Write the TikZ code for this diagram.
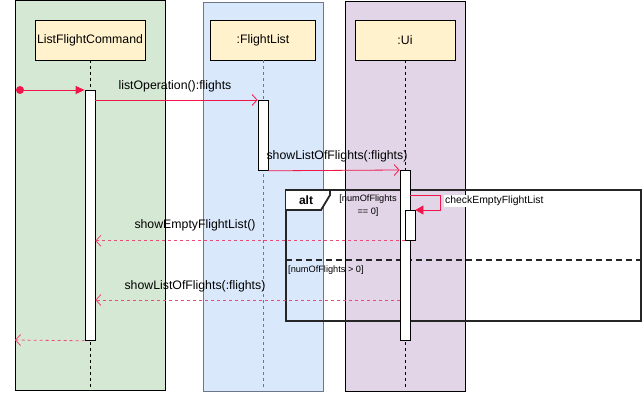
\documentclass[tikz,border=0pt]{standalone}
\usepackage{fontspec}
\setmainfont{Liberation Sans}
\usetikzlibrary{arrows.meta,calc}
\definecolor{lgreen}{HTML}{D5E8D4}
\definecolor{lblue}{HTML}{DAE8FC}
\definecolor{lpurple}{HTML}{E1D5E7}
\definecolor{lyellow}{HTML}{FFF2CC}
\definecolor{bluebord}{HTML}{6E7787}
\definecolor{msgred}{HTML}{F0164A}
\definecolor{retred}{HTML}{EE4A78}
\begin{document}
\begin{tikzpicture}[x=1pt,y=-1pt,
  font=\fontsize{12.3}{14}\selectfont,
  lane/.style={draw=black,line width=0.8pt,minimum width=150pt,minimum height=390pt,anchor=north west,inner sep=0pt},
  headbox/.style={draw=black,fill=lyellow,line width=0.8pt,minimum height=40pt,inner sep=0pt},
  life/.style={dashed,line width=0.7pt,dash pattern=on 3pt off 3pt},
  actbar/.style={draw=black,fill=white,line width=0.8pt,minimum width=10pt,anchor=north,inner sep=0pt},
  msg/.style={draw=msgred,line width=0.8pt},
  ret/.style={draw=retred,line width=0.8pt,dash pattern=on 3pt off 3pt},
  openarr/.style={-{Straight Barb[length=5pt,width=11pt,line width=0.8pt]}},
  frame/.style={draw=black!85,line width=1.8pt},
  guard/.style={font=\fontsize{9.2}{13}\selectfont,inner sep=0pt}
]
\useasboundingbox (0,0) rectangle (643,406);

% lanes
\node[lane,fill=lgreen,minimum width=150pt,minimum height=390pt] (laneA) at (15,0) {};
\node[lane,fill=lblue,draw=bluebord,line width=1.2pt,minimum width=120pt,minimum height=389pt] (laneB) at (203,2) {};
\node[lane,fill=lpurple,minimum width=120pt,minimum height=390pt] (laneC) at (345,1) {};

% heads
\node[headbox,minimum width=110pt] (lfc) at (90,40) {ListFlightCommand};
\node[headbox,minimum width=105pt] (fl) at (263,40) {:FlightList};
\node[headbox,minimum width=100pt] (ui) at (405,40) {:Ui};

% lifeline ends
\coordinate (lfcEnd) at (90,390);
\coordinate (flEnd) at (263,390);
\coordinate (uiEnd) at (405,390);
\draw[life] (lfc.south) -- (lfcEnd);
\draw[life,draw=bluebord,line width=1pt] (fl.south) -- (flEnd);
\draw[life] (ui.south) -- (uiEnd);

% alt frame
\draw[frame] (286,190) rectangle (641,321);
\draw[frame,dash pattern=on 6pt off 4pt] (286,260) -- (641,260);
\draw[frame,fill=white] (286,190) -- (330,190) -- (330,195) -- (321,210) -- (286,210);
\node[font=\fontsize{12}{14}\selectfont\bfseries] (altlbl) at (306,200) {alt};
\node[guard,align=center] (g1) at (368,206) {{[}numOfFlights\\== 0{]}};
\node[guard,anchor=west] (g2) at (288,270) {{[}numOfFlights > 0{]}};

% activations
\node[actbar,minimum height=250pt] (a1) at (90,90) {};
\node[actbar,minimum height=70pt] (a2) at (263,100) {};
\node[actbar,minimum height=170pt] (a3) at (405,170) {};
\node[actbar,minimum height=30pt] (a4) at (410,210) {};

% found message
\node[circle,fill=msgred,minimum size=8pt,inner sep=0pt] (start) at (20,90) {};
\draw[msg,-{Triangle[length=9pt,width=8pt,fill=msgred]}] (start) -- (a1.north west);

% calls
\draw[msg,openarr] (a1.east |- a2.north) -- (a2.north west);
\node (m1) at (175,86) {listOperation():flights};

\draw[msg,openarr] (a2.south east) -- (a3.north west);
\node[inner sep=1pt] (m2) at (337,156) {showListOfFlights(:flights)};

% self call
\coordinate (sc1) at (440,195);
\coordinate (sc2) at (440,210);
\draw[msg,-{Triangle[length=8pt,width=9pt,fill=msgred]}] (a3.east |- sc1) -- (sc1) -- (sc2) -- (a4.north east);
\node[fill=white,anchor=west,inner sep=1pt,font=\fontsize{10.4}{12}\selectfont] (m3) at (444,201) {checkEmptyFlightList};

% returns
\draw[ret,openarr] (a4.south west) -- (a1.east |- a4.south);
\node (m4) at (195,225) {showEmptyFlightList()};

\coordinate (r2) at (400,300);
\draw[ret,openarr] (r2) -- (a1.east |- r2);
\node (m5) at (195,286) {showListOfFlights(:flights)};

\coordinate (endpt) at (15,340);
\draw[ret,openarr] (a1.south west) -- (endpt);
\end{tikzpicture}
\end{document}
